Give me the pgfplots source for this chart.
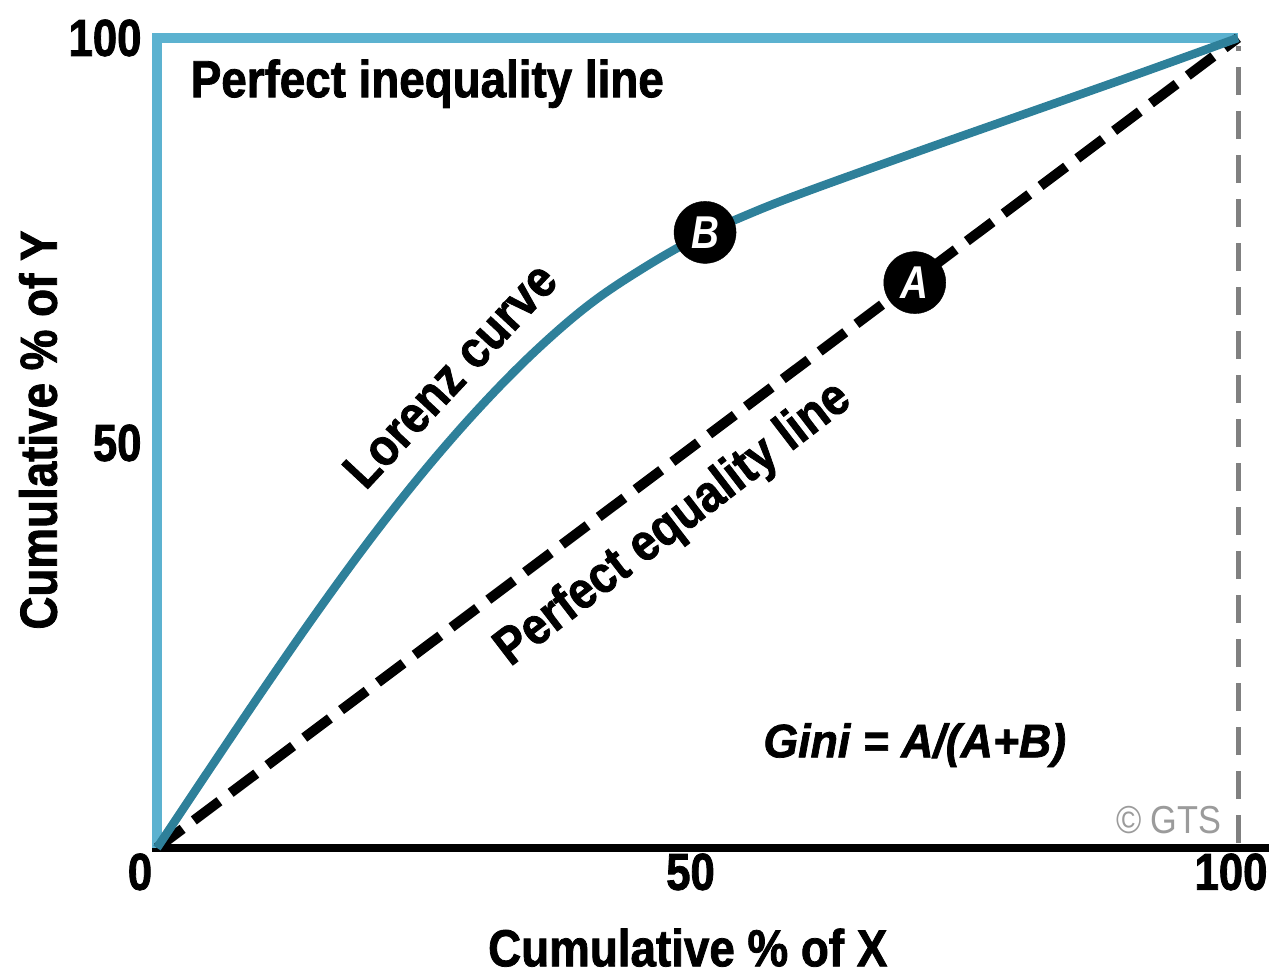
\documentclass[border=0pt]{standalone}
\usepackage{fontspec}
\setmainfont{Liberation Sans}[FakeStretch=0.88, BoldFeatures={FakeBold=1.5}, BoldItalicFeatures={FakeBold=1.5}]
\newfontfamily\tickfont{Liberation Sans}[FakeStretch=0.84, BoldFeatures={FakeBold=1.5}]
\newfontfamily\ginifont{Liberation Sans}[FakeStretch=0.95, BoldFeatures={FakeBold=1.5}, BoldItalicFeatures={FakeBold=1.5}]
\usepackage{pgfplots}
\pgfplotsset{compat=1.18}
\definecolor{lorenz}{RGB}{46,128,154}
\definecolor{ineq}{RGB}{92,178,208}
\definecolor{gts}{RGB}{155,155,155}
\definecolor{vgrey}{RGB}{128,128,128}
\newcommand{\bigf}{\fontsize{52}{56}\selectfont\bfseries}

\begin{document}
\begin{tikzpicture}
\path[use as bounding box] (-157pt,-128pt) rectangle (1112pt,848pt);
\begin{axis}[
 at={(0pt,0pt)}, anchor=south west,
 scale only axis, width=1081pt, height=810pt,
 xmin=0,xmax=100,ymin=0,ymax=100,
 clip=false,
 axis line style={draw=none},
 major tick length=0pt,
 xtick={0,50,100}, ytick={50,100},
 xticklabels={\hspace*{-20pt}0,50,100},
 /pgf/number format/assume math mode=true,
 tick label style={font=\tickfont\fontsize{52}{56}\selectfont\bfseries},
 xticklabel style={xshift=-7pt, yshift=-2pt},
 yticklabel style={xshift=-12pt},
 xlabel={Cumulative \% of X},
 ylabel={Cumulative \% of Y},
 label style={font=\bigf},
 xlabel style={at={(axis description cs:0.491,-0.146)}, anchor=base},
 ylabel style={at={(axis description cs:-0.110,0.516)}, anchor=center},
]
\addplot[black, line width=8pt] coordinates {(-0.45,0) (102.9,0)};
\addplot[ineq, line width=10pt, line join=miter] coordinates {(0,0) (0,100) (100,100)};
\addplot[vgrey, line width=5pt, dash pattern=on 28pt off 16pt] coordinates {(100,0.6) (100,99)};
\addplot[black, line width=10pt, dash pattern=on 32pt off 14pt] coordinates {(0,0) (100,100)};
\addplot[lorenz, line width=8.5pt, smooth, tension=0.6] coordinates {
 (0,0) (5,10) (10,19.9) (15,29.5) (20,38.6) (25,47.0) (30,54.6) (35,61.35) (40,67.1)
 (45,71.6) (50,75.4) (55,78.4) (60,81) (70,85.8) (80,90.5) (90,95.2) (100,100)};
\addplot[only marks, mark=*, mark size=31pt, mark options={fill=black, draw=black},
 nodes near coords={B}, nodes near coords align={center},
 every node near coord/.append style={anchor=center, text=white, font=\tickfont\fontsize{46}{46}\selectfont\bfseries\itshape}]
 coordinates {(50.7,76.0)};
\addplot[only marks, mark=*, mark size=31pt, mark options={fill=black, draw=black},
 nodes near coords={A}, nodes near coords align={center},
 every node near coord/.append style={anchor=center, text=white, font=\tickfont\fontsize{46}{46}\selectfont\bfseries\itshape}]
 coordinates {(70.1,69.8)};
\node[anchor=base west, font=\bigf] at (axis cs:2.8,92.7) {Perfect inequality line};
\node[rotate=47, font=\bigf] at (axis cs:27.1,58.4) {Lorenz curve};
\node[rotate=37.5, font=\bigf] at (axis cs:47.8,39.9) {Perfect equality line};
\node[font=\ginifont\fontsize{47}{50}\selectfont\bfseries\itshape] at (axis cs:70.1,12.7) {Gini = A/(A+B)};
\node[text=gts, font=\fontsize{39}{40}\selectfont] at (axis cs:93.6,3.5) {© GTS};
\end{axis}
\end{tikzpicture}
\end{document}
